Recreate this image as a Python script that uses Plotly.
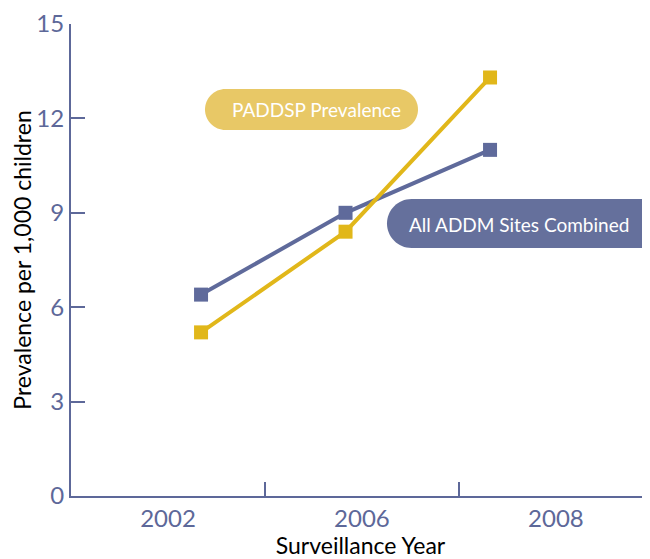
import plotly.graph_objects as go

years = ["2002", "2006", "2008"]
addm_all = [6.4, 9.0, 11.0]
paddsp = [5.2, 8.4, 13.3]
y_ticks = [0, 3, 6, 9, 12, 15]

BLUE = "#5f6a9b"
GOLD = "#e1b71a"
AXIS = "#5d6899"
FONT = "Lato, 'Open Sans', sans-serif"

# page body has an 8px margin, so the figure is shrunk and everything
# is laid out in page pixels minus that offset
OFF = 8
W, H = 650 - OFF, 559 - OFF
# plot area in page pixels
L, R, T, B = 71, 650, 24, 496


def px2paper(x, y):
    return (x - L) / (R - L), (B - y) / (B - T)


def pill(x0, y0, x1, y1, color):
    # rounded-rect path in paper coords, radius = half height
    r = (y1 - y0) / 2.0
    k = 0.5523 * r
    pts = [
        ("M", [(x0 + r, y0)]),
        ("L", [(x1 - r, y0)]),
        ("C", [(x1 - r + k, y0), (x1, y0 + r - k), (x1, y0 + r)]),
        ("C", [(x1, y0 + r + k), (x1 - r + k, y1), (x1 - r, y1)]),
        ("L", [(x0 + r, y1)]),
        ("C", [(x0 + r - k, y1), (x0, y0 + r + k), (x0, y0 + r)]),
        ("C", [(x0, y0 + r - k), (x0 + r - k, y0), (x0 + r, y0)]),
    ]
    path = ""
    for cmd, ps in pts:
        path += cmd + " ".join("%.5f,%.5f" % px2paper(px, py) for px, py in ps) + " "
    path += "Z"
    return dict(type="path", path=path, xref="paper", yref="paper",
                fillcolor=color, line=dict(width=0), layer="below")


fig = go.Figure()
# empty trace so the base x/y subplot (axis lines, ticks, labels) is drawn
fig.add_trace(go.Scatter(x=[], y=[], hoverinfo="skip"))
fig.add_trace(go.Scatter(x=years, y=addm_all, xaxis="x2", mode="lines+markers",
                         line=dict(color=BLUE, width=4),
                         marker=dict(symbol="square", size=14, color=BLUE),
                         name="All ADDM Sites Combined"))
fig.add_trace(go.Scatter(x=years, y=paddsp, xaxis="x2", mode="lines+markers",
                         line=dict(color=GOLD, width=4),
                         marker=dict(symbol="square", size=14, color=GOLD),
                         name="PADDSP Prevalence"))

fig.update_layout(
    width=W, height=H,
    margin=dict(l=L - OFF, r=650 - R, t=T - OFF, b=559 - B, autoexpand=False),
    paper_bgcolor="white", plot_bgcolor="white",
    showlegend=False,
    font=dict(family=FONT),
    xaxis=dict(range=[0, 2.985], showgrid=False, zeroline=False, automargin=False,
               showline=True, linecolor=AXIS, linewidth=2,
               tickmode="array", tickvals=[0.5, 1.5, 2.5], ticktext=years,
               ticks="", tickfont=dict(size=24, color=AXIS),
               minor=dict(tickmode="array", tickvals=[1, 2], ticks="inside",
                          ticklen=14, tickwidth=2, tickcolor=AXIS),
               title=dict(text="Surveillance Year", standoff=4,
                          font=dict(size=23, color="black"))),
    xaxis2=dict(type="category", overlaying="x", visible=False,
                range=[-0.9, 3.107]),
    yaxis=dict(range=[0, 15], showgrid=False, zeroline=False, automargin=False,
               showline=True, linecolor=AXIS, linewidth=2,
               tickmode="array", tickvals=y_ticks,
               ticks="inside", ticklen=14, tickwidth=2, tickcolor=AXIS,
               tickfont=dict(size=24, color=AXIS),
               title=dict(text="Prevalence per 1,000 children", standoff=4,
                          font=dict(size=23, color="black"))),
    shapes=[pill(205, 89, 418, 130, "#e8c866"),
            pill(387, 199, 670, 248, "#65709c")],
)

cx, cy = px2paper(316, 110)
fig.add_annotation(x=cx, y=cy, xref="paper", yref="paper", showarrow=False,
                   xanchor="center", yanchor="middle",
                   text="PADDSP Prevalence", font=dict(size=19, color="white"))
cx, cy = px2paper(519, 224)
fig.add_annotation(x=cx, y=cy, xref="paper", yref="paper", showarrow=False,
                   xanchor="center", yanchor="middle",
                   text="All ADDM Sites Combined", font=dict(size=19, color="white"))

fig.write_html("out.html")
